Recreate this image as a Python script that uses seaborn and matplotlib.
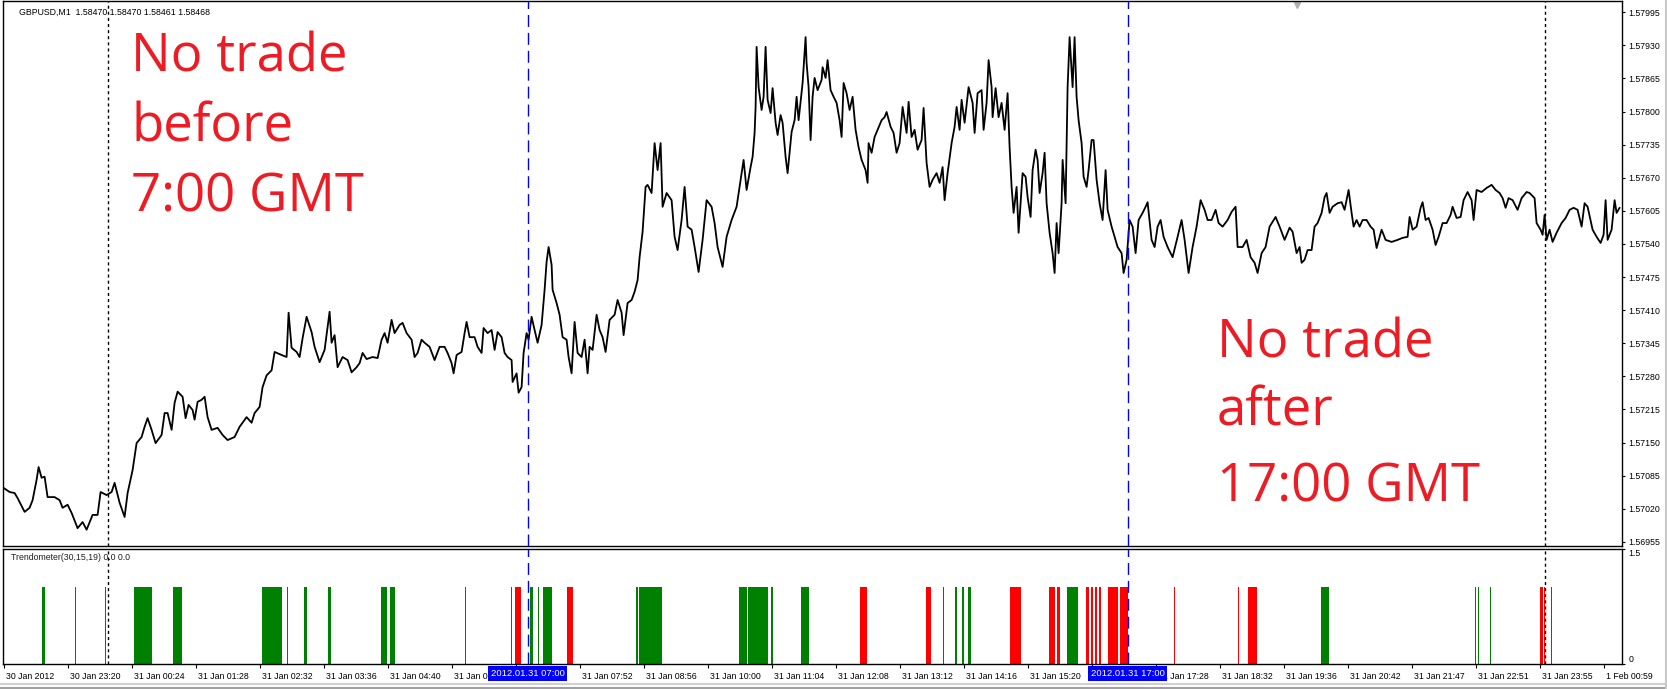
import numpy as np
import pandas as pd
import matplotlib
matplotlib.use("Agg")
import matplotlib.pyplot as plt
import matplotlib.transforms as mtransforms
from matplotlib.lines import Line2D
import seaborn as sns

# GBPUSD M1 close (bar index: 1 bar = 1 minute, 0 = "30 Jan 2012" tick)
bar_idx = [
    0, 6, 11, 14, 21, 26, 29, 33, 35, 38, 41, 44, 51, 56, 59, 64, 68, 74, 79, 83,
    89, 94, 97, 103, 108, 111, 116, 121, 124, 129, 133, 138, 141, 144, 148, 152, 158, 161, 164, 168,
    171, 174, 179, 182, 185, 189, 191, 194, 198, 201, 204, 208, 214, 219, 224, 231, 236, 243, 248, 251,
    256, 259, 263, 268, 271, 278, 283, 285, 288, 293, 296, 299, 303, 308, 311, 316, 321, 326, 328, 331,
    334, 339, 344, 348, 353, 356, 359, 363, 369, 374, 378, 381, 384, 388, 391, 396, 399, 403, 408, 411,
    414, 418, 421, 426, 431, 436, 441, 444, 448, 450, 453, 458, 461, 463, 466, 471, 474, 478, 480, 484,
    488, 491, 494, 498, 501, 504, 508, 509, 513, 515, 518, 520, 523, 525, 528, 531, 534, 538, 541, 543,
    545, 548, 549, 553, 556, 559, 563, 565, 568, 571, 574, 578, 581, 584, 586, 589, 593, 596, 599, 602,
    606, 611, 614, 618, 620, 624, 628, 631, 634, 636, 639, 642, 644, 648, 651, 654, 657, 659, 663, 668,
    671, 674, 678, 681, 684, 688, 691, 695, 699, 703, 708, 711, 714, 719, 723, 728, 733, 736, 740, 743,
    747, 749, 751, 752, 753, 755, 758, 760, 762, 764, 767, 769, 772, 774, 777, 779, 782, 784, 788, 791,
    793, 795, 799, 802, 803, 805, 807, 809, 811, 814, 818, 819, 822, 824, 827, 830, 833, 836, 838, 840,
    843, 846, 849, 852, 855, 858, 862, 864, 865, 868, 871, 874, 878, 881, 883, 887, 890, 893, 896, 899,
    903, 905, 908, 911, 914, 918, 920, 923, 926, 929, 933, 936, 939, 941, 944, 948, 951, 953, 956, 958,
    961, 965, 969, 971, 974, 978, 980, 983, 985, 988, 989, 992, 995, 998, 1001, 1004, 1006, 1008, 1010, 1013,
    1015, 1019, 1022, 1024, 1027, 1029, 1032, 1034, 1036, 1039, 1041, 1043, 1046, 1049, 1051, 1053, 1055, 1058, 1059, 1062,
    1064, 1066, 1069, 1071, 1073, 1075, 1078, 1080, 1083, 1085, 1088, 1090, 1093, 1096, 1099, 1102, 1104, 1108, 1111, 1114,
    1118, 1120, 1123, 1126, 1129, 1132, 1135, 1139, 1142, 1144, 1148, 1151, 1154, 1157, 1160, 1164, 1169, 1174, 1178, 1181,
    1185, 1189, 1193, 1197, 1201, 1204, 1208, 1212, 1215, 1219, 1224, 1228, 1232, 1234, 1239, 1243, 1247, 1251, 1254, 1258,
    1262, 1266, 1272, 1276, 1281, 1286, 1289, 1293, 1296, 1298, 1301, 1304, 1308, 1311, 1314, 1318, 1321, 1323, 1326, 1329,
    1334, 1338, 1341, 1345, 1348, 1350, 1353, 1356, 1359, 1363, 1367, 1370, 1373, 1378, 1382, 1388, 1394, 1399, 1404, 1406,
    1409, 1413, 1417, 1419, 1422, 1425, 1429, 1432, 1435, 1439, 1443, 1447, 1449, 1453, 1457, 1460, 1464, 1468, 1470, 1473,
    1478, 1483, 1488, 1492, 1496, 1499, 1502, 1505, 1509, 1514, 1518, 1523, 1526, 1531, 1533, 1537, 1539, 1541, 1543, 1546,
    1549, 1553, 1558, 1562, 1566, 1570, 1574, 1578, 1581, 1584, 1589, 1593, 1597, 1600, 1602, 1604, 1608, 1611, 1613, 1616,
]
close = [
    1.57061, 1.57053, 1.57051, 1.57041, 1.57014, 1.57022, 1.57037, 1.57077, 1.57102, 1.57081,
    1.57083, 1.57043, 1.57043, 1.57037, 1.57022, 1.57028, 1.57012, 1.56982, 1.56994, 1.56979,
    1.57008, 1.57008, 1.57053, 1.57047, 1.57053, 1.57071, 1.57032, 1.57004, 1.57051, 1.57096,
    1.57149, 1.57161, 1.57181, 1.57198, 1.57175, 1.57149, 1.57165, 1.57208, 1.57208, 1.57175,
    1.57228, 1.57250, 1.57240, 1.57198, 1.57224, 1.57214, 1.57195, 1.57230, 1.57234, 1.57240,
    1.57200, 1.57175, 1.57179, 1.57165, 1.57155, 1.57161, 1.57181, 1.57200, 1.57189, 1.57208,
    1.57220, 1.57259, 1.57282, 1.57292, 1.57328, 1.57322, 1.57318, 1.57405, 1.57336, 1.57328,
    1.57318, 1.57355, 1.57397, 1.57367, 1.57338, 1.57308, 1.57332, 1.57407, 1.57346, 1.57361,
    1.57298, 1.57318, 1.57312, 1.57288, 1.57298, 1.57306, 1.57326, 1.57314, 1.57318, 1.57316,
    1.57352, 1.57365, 1.57346, 1.57391, 1.57365, 1.57381, 1.57385, 1.57365, 1.57352, 1.57318,
    1.57326, 1.57352, 1.57346, 1.57338, 1.57312, 1.57338, 1.57338, 1.57326, 1.57306, 1.57286,
    1.57322, 1.57328, 1.57365, 1.57387, 1.57357, 1.57357, 1.57338, 1.57326, 1.57375, 1.57365,
    1.57371, 1.57332, 1.57367, 1.57357, 1.57326, 1.57318, 1.57312, 1.57269, 1.57286, 1.57248,
    1.57259, 1.57326, 1.57365, 1.57352, 1.57397, 1.57371, 1.57346, 1.57381, 1.57450, 1.57505,
    1.57534, 1.57499, 1.57450, 1.57424, 1.57401, 1.57357, 1.57352, 1.57318, 1.57286, 1.57387,
    1.57326, 1.57318, 1.57352, 1.57286, 1.57338, 1.57332, 1.57401, 1.57371, 1.57357, 1.57328,
    1.57391, 1.57401, 1.57430, 1.57405, 1.57361, 1.57424, 1.57430, 1.57446, 1.57469, 1.57514,
    1.57564, 1.57652, 1.57656, 1.57640, 1.57738, 1.57685, 1.57738, 1.57613, 1.57640, 1.57626,
    1.57554, 1.57528, 1.57587, 1.57652, 1.57574, 1.57568, 1.57534, 1.57485, 1.57548, 1.57626,
    1.57613, 1.57581, 1.57534, 1.57495, 1.57554, 1.57587, 1.57613, 1.57652, 1.57705, 1.57646,
    1.57691, 1.57711, 1.57758, 1.57809, 1.57927, 1.57848, 1.57803, 1.57829, 1.57927, 1.57823,
    1.57797, 1.57846, 1.57778, 1.57754, 1.57793, 1.57778, 1.57711, 1.57679, 1.57760, 1.57783,
    1.57829, 1.57783, 1.57856, 1.57946, 1.57895, 1.57848, 1.57744, 1.57829, 1.57866, 1.57842,
    1.57862, 1.57887, 1.57866, 1.57901, 1.57842, 1.57829, 1.57817, 1.57783, 1.57750, 1.57856,
    1.57836, 1.57803, 1.57829, 1.57764, 1.57730, 1.57705, 1.57685, 1.57660, 1.57738, 1.57719,
    1.57750, 1.57764, 1.57783, 1.57789, 1.57799, 1.57770, 1.57758, 1.57719, 1.57738, 1.57809,
    1.57758, 1.57819, 1.57750, 1.57764, 1.57725, 1.57744, 1.57807, 1.57699, 1.57652, 1.57666,
    1.57679, 1.57660, 1.57691, 1.57626, 1.57679, 1.57738, 1.57770, 1.57809, 1.57764, 1.57823,
    1.57778, 1.57848, 1.57817, 1.57758, 1.57836, 1.57842, 1.57764, 1.57817, 1.57901, 1.57848,
    1.57789, 1.57846, 1.57789, 1.57817, 1.57764, 1.57836, 1.57730, 1.57652, 1.57601, 1.57652,
    1.57562, 1.57679, 1.57672, 1.57632, 1.57593, 1.57685, 1.57725, 1.57705, 1.57640, 1.57679,
    1.57719, 1.57620, 1.57562, 1.57522, 1.57483, 1.57581, 1.57522, 1.57620, 1.57705, 1.57620,
    1.57848, 1.57946, 1.57848, 1.57946, 1.57829, 1.57783, 1.57738, 1.57672, 1.57652, 1.57685,
    1.57744, 1.57744, 1.57666, 1.57620, 1.57587, 1.57685, 1.57607, 1.57574, 1.57554, 1.57534,
    1.57522, 1.57483, 1.57509, 1.57587, 1.57574, 1.57522, 1.57587, 1.57601, 1.57613, 1.57622,
    1.57548, 1.57534, 1.57574, 1.57587, 1.57554, 1.57534, 1.57514, 1.57554, 1.57587, 1.57548,
    1.57483, 1.57534, 1.57574, 1.57626, 1.57607, 1.57587, 1.57587, 1.57607, 1.57581, 1.57574,
    1.57587, 1.57603, 1.57613, 1.57534, 1.57534, 1.57548, 1.57514, 1.57503, 1.57483, 1.57522,
    1.57534, 1.57574, 1.57593, 1.57574, 1.57548, 1.57572, 1.57564, 1.57522, 1.57534, 1.57503,
    1.57509, 1.57528, 1.57528, 1.57574, 1.57581, 1.57601, 1.57632, 1.57640, 1.57601, 1.57613,
    1.57620, 1.57622, 1.57607, 1.57646, 1.57601, 1.57574, 1.57587, 1.57574, 1.57587, 1.57587,
    1.57574, 1.57568, 1.57532, 1.57568, 1.57548, 1.57544, 1.57548, 1.57552, 1.57554, 1.57593,
    1.57568, 1.57574, 1.57611, 1.57622, 1.57587, 1.57591, 1.57568, 1.57538, 1.57554, 1.57581,
    1.57581, 1.57597, 1.57613, 1.57591, 1.57593, 1.57626, 1.57642, 1.57626, 1.57587, 1.57646,
    1.57642, 1.57650, 1.57656, 1.57646, 1.57640, 1.57630, 1.57611, 1.57630, 1.57626, 1.57607,
    1.57630, 1.57642, 1.57640, 1.57630, 1.57581, 1.57568, 1.57558, 1.57597, 1.57548, 1.57568,
    1.57544, 1.57562, 1.57581, 1.57591, 1.57607, 1.57611, 1.57607, 1.57574, 1.57620, 1.57613,
    1.57568, 1.57554, 1.57542, 1.57558, 1.57626, 1.57548, 1.57568, 1.57626, 1.57601, 1.57611,
]

# Trendometer(30,15,19) histogram: runs of bars (first, last) with value 1
up_runs = [(39, 41), (102, 102), (131, 148), (170, 178), (259, 278), (284, 284), (301, 303),
           (325, 327), (378, 383), (387, 391), (462, 462), (527, 529), (535, 535), (540, 548),
           (633, 634), (636, 658), (736, 743), (745, 764), (768, 769), (798, 805), (952, 953),
           (959, 960), (965, 967), (1064, 1074), (1318, 1325), (1472, 1472), (1475, 1475),
           (1487, 1487)]
down_runs = [(72, 72), (508, 508), (512, 517), (564, 569), (857, 863), (923, 927), (940, 940),
             (1007, 1017), (1046, 1051), (1054, 1056), (1083, 1085), (1088, 1089), (1092, 1093),
             (1096, 1097), (1105, 1114), (1117, 1124), (1171, 1171), (1235, 1235), (1245, 1253),
             (1537, 1539), (1541, 1541), (1548, 1548)]

# time scale: labels under 06:48 and 16:24 are hidden by the highlighted session labels
tick_idx = [0, 64, 128, 192, 256, 320, 384, 448, 512, 576, 640, 704, 768, 832, 896, 960,
            1024, 1088, 1152, 1216, 1280, 1344, 1408, 1472, 1536, 1600]
tick_lbl = ["30 Jan 2012", "30 Jan 23:20", "31 Jan 00:24", "31 Jan 01:28", "31 Jan 02:32",
            "31 Jan 03:36", "31 Jan 04:40", "31 Jan 05:44", "", "31 Jan 07:52",
            "31 Jan 08:56", "31 Jan 10:00", "31 Jan 11:04", "31 Jan 12:08", "31 Jan 13:12",
            "31 Jan 14:16", "31 Jan 15:20", "", "31 Jan 17:28", "31 Jan 18:32",
            "31 Jan 19:36", "31 Jan 20:42", "31 Jan 21:47", "31 Jan 22:51", "31 Jan 23:55",
            "1 Feb 00:59"]

price_ticks = [1.56955, 1.57020, 1.57085, 1.57150, 1.57215, 1.57280, 1.57345, 1.57410, 1.57475,
               1.57540, 1.57605, 1.57670, 1.57735, 1.57800, 1.57865, 1.57930, 1.57995]

day_sep_idx = [104, 1541]          # period separators (midnight)
session_idx = [524, 1124]          # 07:00 and 17:00 GMT
session_lbl = ["2012.01.31 07:00", "2012.01.31 17:00"]

df = pd.DataFrame({"bar": bar_idx, "close": close})

sns.set_style("white")
plt.rcParams["font.family"] = ["Liberation Sans", "DejaVu Sans"]
small = 6.3

W, H = 1667, 689
fig = plt.figure(figsize=(W / 100, H / 100), dpi=100)
fig.patch.set_facecolor("white")

left, right = 3, 1622
ax = fig.add_axes([left / W, (H - 546) / H, (right - left) / W, 545 / H])
ax2 = fig.add_axes([left / W, (H - 663.5) / H, (right - left) / W, 115 / H])

xlim = (-0.6, 1618.4)

# price line
sns.lineplot(data=df, x="bar", y="close", ax=ax, color="black", linewidth=1.3,
             estimator=None, sort=False)
ax.set_xlim(*xlim)
ax.set_ylim(1.56947, 1.58017)
ax.set_xlabel("")
ax.set_ylabel("")
ax.set_xticks([])
ax.yaxis.tick_right()
ax.set_yticks(price_ticks)
ax.set_yticklabels([f"{v:.5f}" for v in price_ticks])
ax.tick_params(axis="y", direction="out", length=2.5, width=0.8, pad=2,
               labelsize=small, colors="black", right=True, left=False)

# histogram panel
up = [i for a, b in up_runs for i in range(a, b + 1)]
dn = [i for a, b in down_runs for i in range(a, b + 1)]
ax2.bar(up, [1] * len(up), width=1.0, color="#008000", linewidth=0)
ax2.bar(dn, [1] * len(dn), width=1.0, color="#FF0000", linewidth=0)
ax2.set_xlim(*xlim)
ax2.set_ylim(0, 1.5)
ax2.yaxis.tick_right()
ax2.set_yticks([0, 1.5])
ax2.set_yticklabels(["0", "1.5"])
ax2.tick_params(axis="y", direction="out", length=2.5, width=0.8, pad=2,
                labelsize=small, colors="black", right=True, left=False)
ylbls = ax2.get_yticklabels()
ylbls[0].set_va("bottom")
ylbls[1].set_va("top")

ax2.set_xticks(tick_idx)
ax2.set_xticklabels(tick_lbl)
ax2.tick_params(axis="x", direction="out", length=3, width=0.8, pad=3,
                labelsize=small, colors="black", bottom=True)
shift = mtransforms.ScaledTranslation(2 / 100, 0, fig.dpi_scale_trans)
for t in ax2.get_xticklabels():
    t.set_ha("left")
    t.set_transform(t.get_transform() + shift)

for a in (ax, ax2):
    a.set_facecolor("white")
    for s in a.spines.values():
        s.set_color("black")
        s.set_linewidth(1.0)
        s.set_visible(True)
    for x in day_sep_idx:
        a.axvline(x, color="black", linewidth=1.0, linestyle=(0, (2.2, 2.2)), zorder=4)
    for x in session_idx:
        a.axvline(x, color="#0000FF", linewidth=1.0, linestyle=(0, (8.6, 4.3)), zorder=4)

# highlighted time labels of the session lines
for x, s in zip(session_idx, session_lbl):
    ax2.text(x, -0.085, s, transform=ax2.get_xaxis_transform(), ha="center", va="center",
             fontsize=6.8, color="white", clip_on=False, zorder=10,
             bbox=dict(boxstyle="square,pad=0.3", fc="#0000FF", ec="none"))

# chart header texts
fig.text(19 / W, 1 - 12 / H, "GBPUSD,M1  1.58470 1.58470 1.58461 1.58468",
         fontsize=small, color="black", va="center", ha="left")
ax2.text(8 / (right - left), 0.92, "Trendometer(30,15,19) 0.0 0.0", transform=ax2.transAxes,
         fontsize=small, color="#202020", va="center", ha="left")

# chart shift marker
ax.plot([0.799], [0.992], marker="v", color="#b0b0b0", markersize=5,
        transform=ax.transAxes, clip_on=False)

# annotations
red = "#ED1C24"
big = dict(fontsize=38, color=red, family=["Open Sans", "DejaVu Sans"], ha="left", va="baseline")
for line, yb in zip(["No trade", "before", "7:00 GMT"], [72, 142, 212]):
    fig.text(131 / W, 1 - yb / H, line, **big)
for line, yb in zip(["No trade", "after", "17:00 GMT"], [358, 425, 501]):
    fig.text(1217 / W, 1 - yb / H, line, **big)

# window frame
fig.add_artist(Line2D([0, 1], [1 - 684 / H] * 2, transform=fig.transFigure, color="#d0d0d0", lw=1.5))
fig.add_artist(Line2D([0, 1], [1 - 688 / H] * 2, transform=fig.transFigure, color="#a0a0a0", lw=1.5))
fig.add_artist(Line2D([1 - 1.5 / W] * 2, [0, 1], transform=fig.transFigure, color="#c8c8c8", lw=1.5))

fig.savefig("out.png", dpi=100, facecolor="white")
